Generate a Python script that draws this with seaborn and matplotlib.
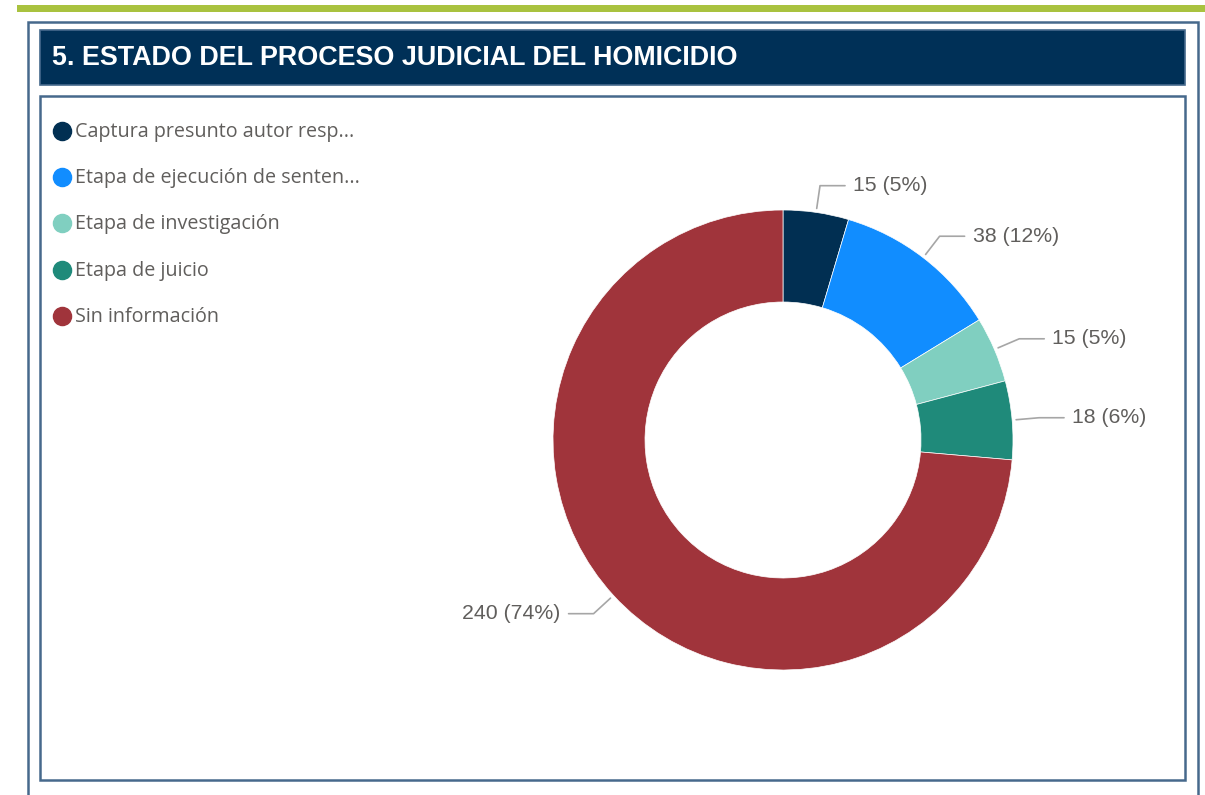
import numpy as np
import matplotlib
matplotlib.use("Agg")
import matplotlib.pyplot as plt
import seaborn as sns
from matplotlib.patches import Rectangle

# ---- data ----
categories = ["Captura presunto autor resp...", "Etapa de ejecución de senten...",
              "Etapa de investigación", "Etapa de juicio", "Sin información"]
values = [15, 38, 15, 18, 240]
pct_labels = ["5%", "12%", "5%", "6%", "74%"]
colors = ["#012f52", "#118dff", "#80cfc0", "#1f8a7a", "#a0343b"]
title = "5. ESTADO DEL PROCESO JUDICIAL DEL HOMICIDIO"

sns.set_theme(style="white")
plt.rcParams['font.family'] = ['Open Sans', 'DejaVu Sans']

W, H = 1205, 795
fig = plt.figure(figsize=(W / 100, H / 100), dpi=100)
fig.patch.set_facecolor("white")

# background / frame axes in pixel coords (y down)
bg = fig.add_axes([0, 0, 1, 1])
bg.set_xlim(0, W)
bg.set_ylim(H, 0)
bg.axis("off")

# green top line
bg.add_patch(Rectangle((17, 5), W - 17, 7, facecolor="#a9c23f", edgecolor="none"))
# outer box
bg.add_patch(Rectangle((28, 22), 1170, 800, facecolor="white", edgecolor="#46698c", lw=1.8))
# title bar
bg.add_patch(Rectangle((40, 30), 1145, 55, facecolor="#003057", edgecolor="#46698c", lw=1.2))
bg.text(52, 58, title, color="white", fontsize=19.4, fontweight="bold",
        family=["Liberation Sans", "DejaVu Sans"], va="center", ha="left")
# inner box
bg.add_patch(Rectangle((40, 96), 1145, 684, facecolor="white", edgecolor="#46698c", lw=1.8))

# legend
for i, (cat, col) in enumerate(zip(categories, colors)):
    y = 131 + i * 46.2
    bg.scatter([62], [y], s=170, color=col, zorder=5)
    bg.text(75, y + 1, cat, color="#605e5c", fontsize=14.2, va="center", ha="left")

# pie axes in pixel coords (y up)
ax = fig.add_axes([0, 0, 1, 1])
ax.patch.set_alpha(0)
cx, cy, R = 783, H - 440, 230
wedges, _ = ax.pie(values, colors=colors, startangle=90, counterclock=False,
                   center=(cx, cy), radius=R,
                   wedgeprops=dict(width=R * 0.40, edgecolor="white", linewidth=0.5))
ax.set_xlim(0, W)
ax.set_ylim(0, H)
ax.axis("off")

total = sum(values)
cum = 0
for v, p in zip(values, pct_labels):
    mid = (cum + v / 2) / total * 2 * np.pi  # clockwise from top
    cum += v
    sx, sy = np.sin(mid), np.cos(mid)
    x0, y0 = cx + 234 * sx, cy + 234 * sy
    x1, y1 = cx + 257 * sx, cy + 257 * sy
    d = 1 if sx >= 0 else -1
    x2 = x1 + 25 * d
    ax.plot([x0, x1, x2], [y0, y1, y1], color="#a6a6a6", lw=1.2)
    ax.text(x2 + 8 * d, y1, f"{v} ({p})", color="#605e5c", fontsize=15.3,
            family=["Liberation Sans", "DejaVu Sans"],
            ha="left" if d > 0 else "right", va="center")

fig.savefig("out.png", dpi=100)
